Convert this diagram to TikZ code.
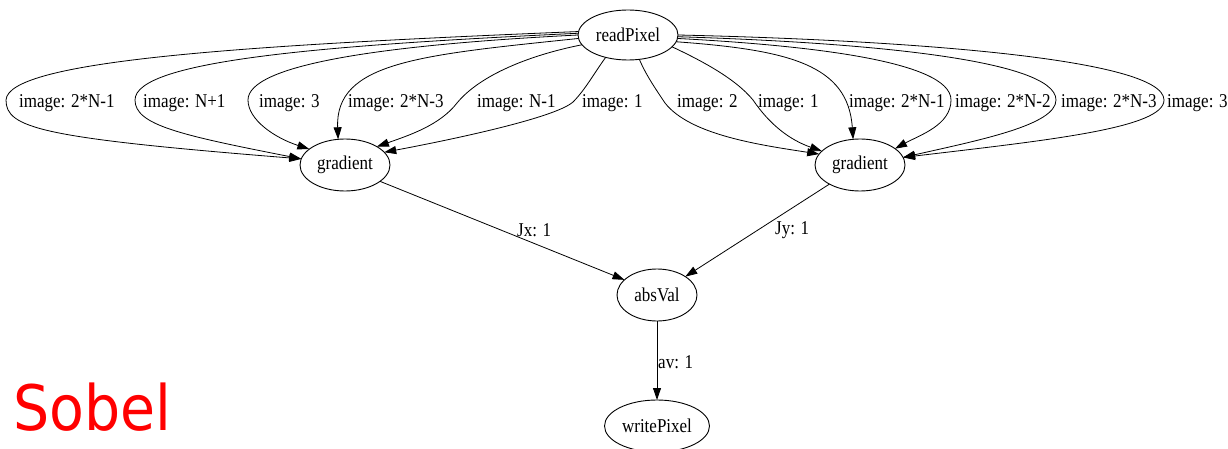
\documentclass[tikz,border=0pt]{standalone}
\usepackage{fontspec}
\usepackage{graphicx}
\setmainfont{Liberation Serif}
\newfontfamily\sobelfont{DejaVu Sans}
\usetikzlibrary{shapes.geometric,arrows.meta}
\newcommand{\vstretch}[1]{\scalebox{1}[1.15]{#1}}
\begin{document}
\begin{tikzpicture}[x=1pt,y=-1pt,
  vertex/.style={draw, ellipse, line width=0.9pt, inner sep=0pt, outer sep=0pt, font=\fontsize{17}{20}\selectfont},
  lbl/.style={inner sep=0pt, anchor=west, font=\fontsize{17}{20}\selectfont},
  conn/.style={line width=0.8pt, -{Triangle[length=12pt,width=8pt]}}]
\fill[white] (0,0) rectangle (1228,449);
\useasboundingbox (0,0) rectangle (1228,449);
% nodes
\node[vertex, minimum width=100pt, minimum height=50pt] (rp) at (628,35) {\vstretch{readPixel}};
\node[vertex, minimum width=90pt, minimum height=52pt] (g1) at (345,165) {\vstretch{gradient}};
\node[vertex, minimum width=90pt, minimum height=52pt] (g2) at (860,165) {\vstretch{gradient}};
\node[vertex, minimum width=80pt, minimum height=52pt] (av) at (657,295) {\vstretch{absVal}};
\node[vertex, minimum width=105pt, minimum height=52pt] (wp) at (657,426) {\vstretch{writePixel}};
% labels
\node[lbl] (l1) at (19,103) {\vstretch{image: 2*N-1}};
\node[lbl] (l2) at (143,103) {\vstretch{image: N+1}};
\node[lbl] (l3) at (259,103) {\vstretch{image: 3}};
\node[lbl] (l4) at (348,103) {\vstretch{image: 2*N-3}};
\node[lbl] (l5) at (477,103) {\vstretch{image: N-1}};
\node[lbl] (l6) at (582,103) {\vstretch{image: 1}};
\node[lbl] (l7) at (677,103) {\vstretch{image: 2}};
\node[lbl] (l8) at (758,103) {\vstretch{image: 1}};
\node[lbl] (l9) at (849,103) {\vstretch{image: 2*N-1}};
\node[lbl] (l10) at (955,103) {\vstretch{image: 2*N-2}};
\node[lbl] (l11) at (1061,103) {\vstretch{image: 2*N-3}};
\node[lbl] (l12) at (1167,103) {\vstretch{image: 3}};
\node[lbl] (ljx) at (517,230) {\vstretch{Jx: 1}};
\node[lbl] (ljy) at (775,230) {\vstretch{Jy: 1}};
\node[lbl] (lav) at (658,362) {\vstretch{av: 1}};
% left fan
\draw[conn] (rp.176) .. controls (250,45) and (8,60) .. (6,100) .. controls (6,128) and (40,138) .. (g1.172);
\draw[conn] (rp.178) .. controls (330,45) and (135,60) .. (135,100) .. controls (135,125) and (180,135) .. (g1.172);
\draw[conn] (rp.180) .. controls (380,45) and (248,65) .. (248,100) .. controls (248,120) and (275,138) .. (g1.156);
\draw[conn] (rp.184) .. controls (420,55) and (335,62) .. (g1.105);
\draw[conn] (rp.192) .. controls (530,55) and (480,75) .. (457,103) .. controls (440,125) and (410,135) .. (g1.30);
\draw[conn] (rp.225) .. controls (595,72) and (585,90) .. (573,102) .. controls (555,118) and (450,140) .. (g1.18);
% right fan
\draw[conn] (rp.295) .. controls (646,75) and (655,88) .. (665,103) .. controls (690,135) and (760,145) .. (g2.165);
\draw[conn] (rp.345) .. controls (700,60) and (735,78) .. (753,100) .. controls (770,125) and (790,140) .. (g2.160);
\draw[conn] (rp.352) .. controls (790,50) and (848,65) .. (g2.105);
\draw[conn] (rp.356) .. controls (800,45) and (951,60) .. (951,100) .. controls (951,125) and (920,135) .. (g2.25);
\draw[conn] (rp.358) .. controls (850,42) and (1056,58) .. (1056,100) .. controls (1056,125) and (980,140) .. (g2.10);
\draw[conn] (rp.0) .. controls (900,40) and (1164,58) .. (1164,100) .. controls (1164,128) and (1050,140) .. (g2.10);
% lower edges
\draw[conn] (g1.-25) -- (av.155);
\draw[conn] (g2.212) -- (av.33);
\draw[conn] (av) -- (wp);
% title
\node[anchor=base west, inner sep=0pt, text=red, font=\sobelfont\fontsize{57}{66}\selectfont] (title) at (13,430) {\scalebox{1}[1.1]{Sobel}};
\end{tikzpicture}
\end{document}
